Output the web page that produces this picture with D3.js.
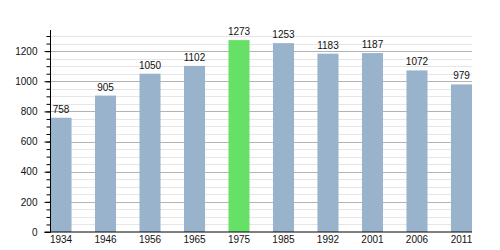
<!DOCTYPE html>
<html>
<head>
<meta charset="utf-8">
<script src="https://cdn.jsdelivr.net/npm/d3@7"></script>
<style>
  body { margin: 0; background: #fff; }
  text { font-family: "Liberation Sans", Arial, sans-serif; font-size: 10px; fill: #111; }
</style>
</head>
<body>
<div id="chart"></div>
<script>
// population by census year
const years = ['1934', '1946', '1956', '1965', '1975', '1985', '1992', '2001', '2006', '2011']
const population = [758, 905, 1050, 1102, 1273, 1253, 1183, 1187, 1072, 979]
const highlightYear = '1975'
const majorTicks = [0, 200, 400, 600, 800, 1000, 1200]
const minorTicks = d3.range(0, 1301, 50)

const width = 500, height = 250
const margin = {top: 30, left: 50.5, right: 28, bottom: 18}
const baseY = height - margin.bottom

const svg = d3.select('#chart').append('svg')
    .attr('width', width)
    .attr('height', height)

let x = d3.scaleBand()
    .domain(years)
    .range([margin.left, width - margin.right])
    .paddingInner(0.527)
    .paddingOuter(0)

let y = d3.scaleLinear()
    .domain([0, 1340])
    .range([baseY, margin.top])

// grid, light every 50, darker every 200
svg.append('g')
    .selectAll('line')
    .data(minorTicks.filter(d => d > 0))
        .enter()
    .append('line')
    .attr('x1', margin.left)
    .attr('x2', width - margin.right)
    .attr('y1', d => Math.round(y(d)) + 0.5)
    .attr('y2', d => Math.round(y(d)) + 0.5)
    .style('stroke', d => d % 200 === 0 ? '#b3b3b3' : '#e6e6e6')
    .style('stroke-width', 1)

// bars
svg.append('g')
    .selectAll('rect')
    .data(years)
        .enter()
    .append('rect')
    .attr('x', d => x(d))
    .attr('width', x.bandwidth())
    .attr('y', (d, i) => y(population[i]))
    .attr('height', (d, i) => baseY - y(population[i]))
    .style('fill', d => d === highlightYear ? '#66e066' : '#99b3cc')

// value labels
svg.append('g')
    .selectAll('text')
    .data(years)
        .enter()
    .append('text')
    .attr('x', d => x(d) + x.bandwidth() / 2)
    .attr('y', (d, i) => y(population[i]) - 5)
    .style('text-anchor', 'middle')
    .text((d, i) => population[i])

// Y axis: minor ticks, then major ticks with labels
svg.append('g')
    .attr('transform', `translate(${margin.left}, 0)`)
    .call(d3.axisLeft(y).tickValues(minorTicks).tickSize(4).tickFormat(''))
    .call(g => g.select('.domain').remove())
    .call(g => g.selectAll('line').attr('stroke', '#000'))

svg.append('g')
    .attr('transform', `translate(${margin.left}, 0)`)
    .call(d3.axisLeft(y).tickValues(majorTicks).tickSize(6).tickPadding(7).tickFormat(d3.format('d')))
    .call(g => g.select('.domain').attr('d', `M0,${baseY}V${margin.top}`).attr('stroke', '#000'))
    .call(g => g.selectAll('line').attr('stroke', '#000'))
    .call(g => g.selectAll('text').attr('font-family', null).attr('font-size', null).attr('fill', null))

// X axis
svg.append('g')
    .attr('transform', `translate(0, ${baseY})`)
    .call(d3.axisBottom(x).tickSize(0).tickPadding(4))
    .call(g => g.select('.domain').attr('d', `M${margin.left - 6},0H${width - margin.right}`).attr('stroke', '#000'))
    .call(g => g.selectAll('text').attr('font-family', null).attr('font-size', null).attr('fill', null))
</script>
</body>
</html>
